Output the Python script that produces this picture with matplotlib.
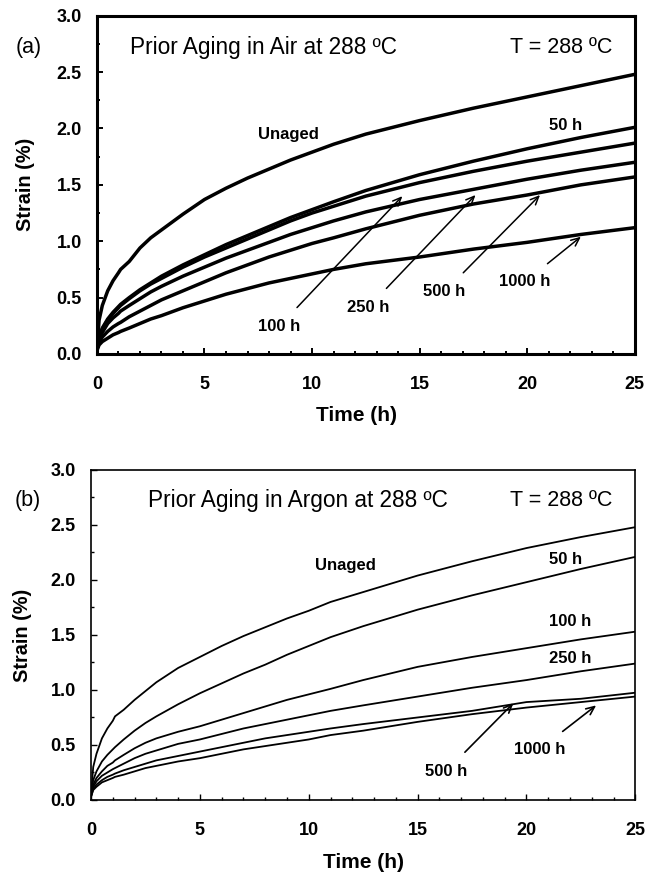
import numpy as np
import matplotlib
matplotlib.use("Agg")
import matplotlib.pyplot as plt
from matplotlib.ticker import MultipleLocator, FormatStrFormatter

plt.rcParams['font.family'] = ['Liberation Sans', 'DejaVu Sans']

# time grid (h) shared by all curves
time_h = [0, 0.1, 0.25, 0.5, 0.75, 1.0, 1.1, 1.5, 2, 2.5, 3, 4, 5, 6, 7, 8, 9, 10, 11, 12.5, 15, 17.5, 20, 22.5, 25]

# (a) prior aging in air, strain (%)
air_unaged = [0.05, 0.30, 0.43, 0.56, 0.65, 0.72, 0.75, 0.82, 0.94, 1.03, 1.10, 1.24, 1.37, 1.47, 1.56, 1.64, 1.72, 1.79, 1.86, 1.95, 2.07, 2.18, 2.28, 2.38, 2.48]
air_50 = [0.05, 0.15, 0.23, 0.31, 0.37, 0.42, 0.44, 0.50, 0.57, 0.63, 0.69, 0.79, 0.88, 0.97, 1.05, 1.13, 1.21, 1.28, 1.35, 1.45, 1.59, 1.71, 1.82, 1.92, 2.01]
air_100 = [0.05, 0.15, 0.22, 0.30, 0.36, 0.41, 0.43, 0.49, 0.56, 0.62, 0.67, 0.77, 0.86, 0.94, 1.02, 1.10, 1.18, 1.25, 1.31, 1.40, 1.52, 1.62, 1.71, 1.79, 1.87]
air_250 = [0.04, 0.13, 0.19, 0.27, 0.32, 0.36, 0.38, 0.43, 0.49, 0.55, 0.60, 0.69, 0.77, 0.85, 0.92, 0.99, 1.06, 1.12, 1.18, 1.26, 1.37, 1.46, 1.55, 1.63, 1.70]
air_500 = [0.04, 0.10, 0.15, 0.20, 0.24, 0.27, 0.28, 0.33, 0.38, 0.43, 0.48, 0.56, 0.64, 0.72, 0.79, 0.86, 0.92, 0.98, 1.03, 1.11, 1.23, 1.33, 1.41, 1.50, 1.57]
air_1000 = [0.03, 0.08, 0.11, 0.14, 0.17, 0.19, 0.20, 0.23, 0.27, 0.31, 0.34, 0.41, 0.47, 0.53, 0.58, 0.63, 0.67, 0.71, 0.75, 0.80, 0.86, 0.93, 0.99, 1.06, 1.12]

# (b) prior aging in argon, strain (%)
ar_unaged = [0.05, 0.30, 0.42, 0.56, 0.65, 0.72, 0.76, 0.82, 0.91, 0.99, 1.07, 1.20, 1.30, 1.40, 1.49, 1.57, 1.65, 1.72, 1.80, 1.89, 2.04, 2.17, 2.29, 2.39, 2.48]
ar_50 = [0.05, 0.18, 0.26, 0.35, 0.41, 0.46, 0.48, 0.55, 0.63, 0.70, 0.76, 0.87, 0.97, 1.06, 1.15, 1.23, 1.32, 1.40, 1.48, 1.58, 1.73, 1.86, 1.98, 2.10, 2.21]
ar_100 = [0.04, 0.14, 0.20, 0.26, 0.31, 0.34, 0.36, 0.41, 0.47, 0.52, 0.56, 0.62, 0.67, 0.73, 0.79, 0.85, 0.91, 0.96, 1.01, 1.09, 1.21, 1.30, 1.38, 1.46, 1.53]
ar_250 = [0.04, 0.12, 0.17, 0.22, 0.25, 0.28, 0.29, 0.33, 0.38, 0.42, 0.45, 0.51, 0.55, 0.60, 0.65, 0.69, 0.73, 0.77, 0.81, 0.86, 0.94, 1.02, 1.09, 1.17, 1.24]
ar_500 = [0.03, 0.10, 0.14, 0.18, 0.21, 0.23, 0.24, 0.27, 0.30, 0.33, 0.36, 0.40, 0.44, 0.48, 0.52, 0.56, 0.59, 0.62, 0.65, 0.69, 0.75, 0.81, 0.89, 0.92, 0.975]
ar_1000 = [0.03, 0.09, 0.12, 0.16, 0.18, 0.20, 0.21, 0.23, 0.26, 0.29, 0.31, 0.35, 0.38, 0.42, 0.46, 0.49, 0.52, 0.55, 0.59, 0.63, 0.71, 0.78, 0.84, 0.89, 0.94]

# label text, text position, arrow tip (None = plain label)
air_labels = [
    ("Unaged", (8.9, 1.95), None),
    ("50 h", (21.8, 2.03), None),
    ("100 h", (8.45, 0.24), (14.2, 1.40)),
    ("250 h", (12.6, 0.41), (17.6, 1.41)),
    ("500 h", (16.15, 0.55), (20.6, 1.41)),
    ("1000 h", (19.9, 0.64), (22.5, 1.04)),
]
argon_labels = [
    ("Unaged", (11.7, 2.13), None),
    ("50 h", (21.8, 2.19), None),
    ("100 h", (22.0, 1.62), None),
    ("250 h", (22.0, 1.29), None),
    ("500 h", (16.3, 0.26), (19.4, 0.88)),
    ("1000 h", (20.6, 0.46), (23.2, 0.86)),
]


def style_axes(ax, spine_w, tick_w, title, title_x):
    ax.set_xlim(0, 25)
    ax.set_ylim(0, 3.0)
    ax.xaxis.set_major_locator(MultipleLocator(5))
    ax.xaxis.set_minor_locator(MultipleLocator(1))
    ax.yaxis.set_major_locator(MultipleLocator(0.5))
    ax.yaxis.set_minor_locator(MultipleLocator(0.25))
    ax.yaxis.set_major_formatter(FormatStrFormatter('%.1f'))
    ax.tick_params(which='both', direction='in', top=False, right=False, width=tick_w)
    ax.tick_params(which='major', length=4)
    ax.tick_params(which='minor', length=2.5)
    ax.tick_params(axis='x', which='major', pad=16, labelsize=13)
    ax.tick_params(axis='y', which='major', pad=11, labelsize=13)
    for lab in ax.get_xticklabels() + ax.get_yticklabels():
        lab.set_fontweight('bold')
    for sp in ax.spines.values():
        sp.set_linewidth(spine_w)
    ax.set_xlabel("Time (h)", fontsize=15, fontweight='bold')
    ax.set_ylabel("Strain (%)", fontsize=14.3, fontweight='bold')
    ax.text(title_x, 0.907, title, transform=ax.transAxes,
            fontsize=16.3, va='center', ha='left')
    ax.text(0.958, 0.907, "T = 288 ºC", transform=ax.transAxes,
            fontsize=15.5, va='center', ha='right')


def add_labels(ax, labels, lw):
    for text, pos, tip in labels:
        if tip is None:
            ax.text(pos[0], pos[1], text, fontsize=12, fontweight='bold', ha='center', va='center')
        else:
            ax.annotate(text, xy=tip, xytext=pos, fontsize=12, fontweight='bold',
                        ha='center', va='center',
                        arrowprops=dict(arrowstyle='->,head_length=0.5,head_width=0.22',
                                        lw=lw, color='black', shrinkA=9, shrinkB=0))


fig = plt.figure(figsize=(6.55, 8.74), dpi=100)

ax1 = fig.add_axes([0.148, 0.595, 0.821, 0.387])
for s in [air_unaged, air_50, air_100, air_250, air_500, air_1000]:
    ax1.plot(time_h, s, color='black', lw=2.5, solid_joinstyle='round')
style_axes(ax1, 2.2, 1.4, "Prior Aging in Air at 288 ºC", 0.062)
add_labels(ax1, air_labels, 1.1)
ax1.xaxis.set_label_coords(0.483, -0.155)
ax1.yaxis.set_label_coords(-0.115, 0.5)
fig.text(29 / 655, 1 - 48 / 874, "(a)", fontsize=15.5, ha='center', va='center')

ax2 = fig.add_axes([0.139, 0.0847, 0.831, 0.3776])
for s in [ar_unaged, ar_50, ar_100, ar_250, ar_500, ar_1000]:
    ax2.plot(time_h, s, color='black', lw=1.3, solid_joinstyle='round')
style_axes(ax2, 1.2, 1.0, "Prior Aging in Argon at 288 ºC", 0.104)
add_labels(ax2, argon_labels, 1.2)
ax2.xaxis.set_label_coords(0.5, -0.16)
ax2.yaxis.set_label_coords(-0.108, 0.5)
fig.text(28 / 655, 1 - 500 / 874, "(b)", fontsize=15.5, ha='center', va='center')

fig.savefig("out.png", dpi=100)
